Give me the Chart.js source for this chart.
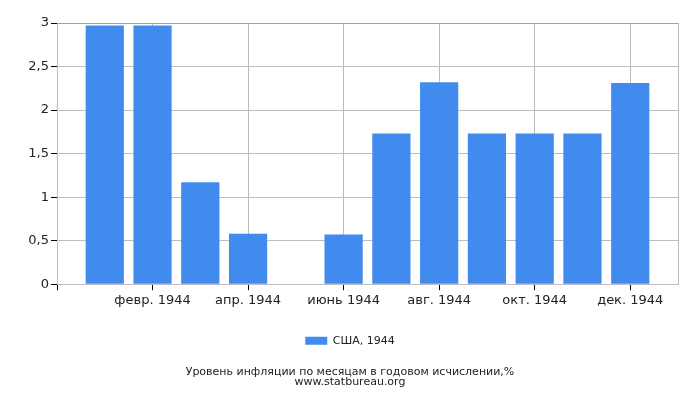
<!DOCTYPE html>
<html>
<head>
<meta charset="utf-8">
<script src="https://cdn.jsdelivr.net/npm/chart.js@4/dist/chart.umd.min.js"></script>
<style>
  body { margin: 0; background: #fff; }
  #wrap { width: 700px; height: 400px; }
</style>
</head>
<body>
<div id="wrap"><canvas id="infl" width="700" height="400"></canvas></div>
<script>
// --- data ---
const monthLabels = ['янв. 1944', 'февр. 1944', 'март 1944', 'апр. 1944', 'май 1944', 'июнь 1944',
                     'июль 1944', 'авг. 1944', 'сент. 1944', 'окт. 1944', 'нояб. 1944', 'дек. 1944'];
const usaValues = [2.97, 2.97, 1.17, 0.58, 0, 0.57, 1.73, 2.32, 1.73, 1.73, 1.73, 2.31];
const yTicks = [0, 0.5, 1, 1.5, 2, 2.5, 3];
const xTicks = [0, 2, 4, 6, 8, 10, 12, 13];
const seriesName = 'США, 1944';
const titleLines = ['Уровень инфляции по месяцам в годовом исчислении,%', 'www.statbureau.org'];

// bars sit at month 1..12 on a linear axis running 0..13
const points = usaValues.map((v, i) => ({ x: i + 1, y: v }));

const FONT = 'DejaVu Sans';

new Chart(document.getElementById('infl').getContext('2d'), {
    type: 'bar',
    data: {
        datasets: [{
            label: seriesName,
            data: points,
            backgroundColor: 'rgb(65,139,239)',
            borderWidth: 0,
            categoryPercentage: 1,
            barPercentage: 0.8
        }]
    },
    options: {
        responsive: false,
        animation: false,
        layout: { padding: { top: 23, right: 22, bottom: 13, left: 22 } },
        plugins: {
            tooltip: { enabled: false },
            legend: {
                position: 'bottom',
                labels: {
                    boxWidth: 22, boxHeight: 8, padding: 10,
                    color: '#222', font: { family: FONT, size: 11 }
                }
            },
            title: {
                display: true,
                position: 'bottom',
                text: titleLines,
                color: '#222',
                font: { family: FONT, size: 11, weight: 'normal', lineHeight: 0.9 },
                padding: { top: 11, bottom: 0 }
            }
        },
        scales: {
            x: {
                type: 'linear',
                offset: false,
                min: 0, max: 13,
                afterBuildTicks: s => { s.ticks = xTicks.map(v => ({ value: v })); },
                ticks: {
                    autoSkip: false,
                    maxRotation: 0,
                    padding: 3,
                    color: '#222',
                    font: { family: FONT, size: 13 },
                    callback: v => (v >= 1 && v <= 12) ? monthLabels[v - 1] : ''
                },
                grid: {
                    offset: false,
                    color: '#bdbdbd',
                    tickLength: 6,
                    tickWidth: 1,
                    // no tick mark at the right edge
                    tickColor: c => (c.tick && c.tick.value === 13) ? 'rgba(0,0,0,0)' : '#000'
                },
                border: { color: '#bdbdbd' },
                afterFit: s => { s.height = 41; }
            },
            y: {
                min: 0, max: 3,
                afterBuildTicks: s => { s.ticks = yTicks.map(v => ({ value: v })); },
                ticks: {
                    padding: 2,
                    color: '#222',
                    font: { family: FONT, size: 13 },
                    callback: v => String(v).replace('.', ',')
                },
                grid: {
                    color: c => (c.tick && c.tick.value === 3) ? '#a0a0a0' : '#bdbdbd',
                    tickLength: 6,
                    tickColor: '#000'
                },
                border: { color: '#bdbdbd' },
                afterFit: s => { s.width = 35; }
            }
        }
    }
});
</script>
</body>
</html>
